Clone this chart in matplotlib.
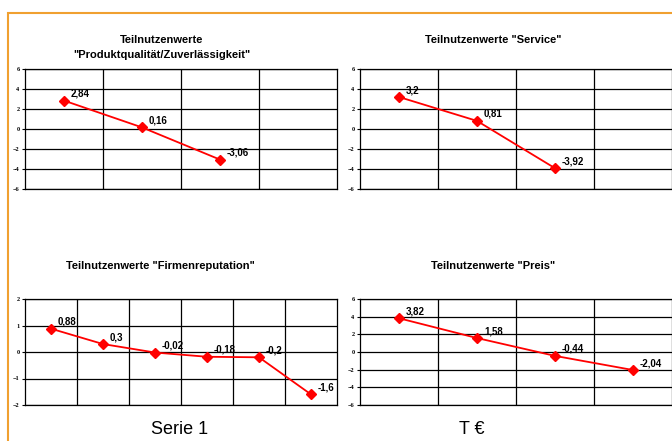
import matplotlib.pyplot as plt
from matplotlib.patches import Rectangle
from matplotlib.ticker import FixedLocator

# part-worth values per attribute
qualitaet = [2.84, 0.16, -3.06]
service = [3.2, 0.81, -3.92]
reputation = [0.88, 0.3, -0.02, -0.18, -0.2, -1.6]
preis = [3.82, 1.58, -0.44, -2.04]

titles = ['Teilnutzenwerte\n"Produktqualität/Zuverlässigkeit"',
          'Teilnutzenwerte "Service"',
          'Teilnutzenwerte "Firmenreputation"',
          'Teilnutzenwerte "Preis"']
n_cats = [4, 4, 6, 4]
yticks = [[-6, -4, -2, 0, 2, 4, 6], [-6, -4, -2, 0, 2, 4, 6],
          [-2, -1, 0, 1, 2], [-6, -4, -2, 0, 2, 4, 6]]
series = [qualitaet, service, reputation, preis]

W, H = 672, 441
fig = plt.figure(figsize=(W / 100, H / 100), dpi=100)

# orange frame
fig.patches.append(Rectangle((8 / W, -0.1), 1.2, 1 - 13 / H + 0.1, transform=fig.transFigure,
                             fill=False, edgecolor='#F0A030', linewidth=1.5))

boxes = [(25, 69, 312, 120), (360, 69, 312, 120),
         (25, 299, 312, 106), (360, 299, 312, 106)]

for i, (l, t, w, h) in enumerate(boxes):
    ax = fig.add_axes([l / W, 1 - (t + h) / H, w / W, h / H])
    vals = series[i]
    x = list(range(1, len(vals) + 1))
    ax.plot(x, vals, color='red', linewidth=1.3, marker='D', markersize=5.5, zorder=3, clip_on=False)
    for xi, v in zip(x, vals):
        ax.annotate(f'{v:g}'.replace('.', ','), (xi, v), xytext=(5, 5), textcoords='offset points',
                    fontsize=7, fontweight='bold', family='Liberation Sans', va='center', ha='left')
    ax.set_xlim(0.5, n_cats[i] + 0.5)
    ax.set_ylim(yticks[i][0], yticks[i][-1])
    ax.set_yticks(yticks[i])
    ax.set_xticks([])
    ax.xaxis.set_minor_locator(FixedLocator([k + 0.5 for k in range(1, n_cats[i])]))
    ax.grid(True, which='minor', axis='x', color='black', linewidth=0.9)
    ax.grid(True, which='major', axis='y', color='black', linewidth=0.9)
    ax.tick_params(axis='x', which='both', length=0)
    ax.tick_params(axis='y', length=2, width=0.8, pad=2, labelsize=4.5)
    for lab in ax.get_yticklabels():
        lab.set_fontweight('bold')
        lab.set_family('Liberation Serif')
    for s in ax.spines.values():
        s.set_linewidth(0.9)

# titles
tkw = dict(ha='center', va='center', fontsize=8, fontweight='bold', family='Liberation Sans')
fig.text(162 / W, 1 - 40 / H, 'Teilnutzenwerte', **tkw)
fig.text(162 / W, 1 - 55 / H, '"Produktqualität/Zuverlässigkeit"', **tkw)
fig.text(493 / W, 1 - 40 / H, titles[1], **tkw)
fig.text(160 / W, 1 - 266 / H, titles[2], **tkw)
fig.text(493 / W, 1 - 266 / H, titles[3], **tkw)

fig.text(180 / W, 1 - 429 / H, 'Serie 1', ha='center', va='center', fontsize=13, family='Liberation Sans')
fig.text(472 / W, 1 - 429 / H, 'T €', ha='center', va='center', fontsize=13, family='Liberation Sans')

fig.savefig('out.png', dpi=100)
